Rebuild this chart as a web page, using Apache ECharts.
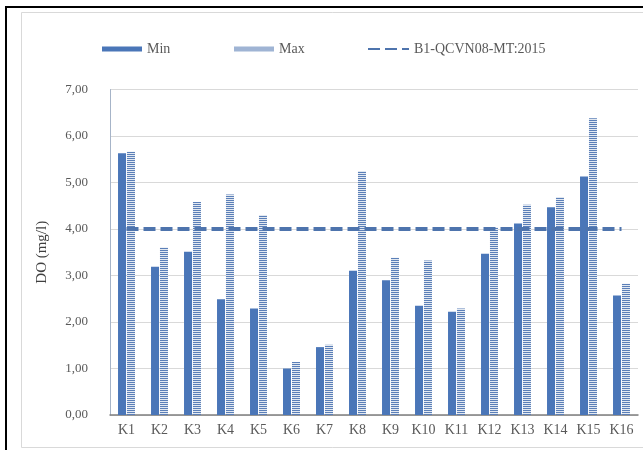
<!DOCTYPE html>
<html>
<head>
<meta charset="utf-8">
<script src="https://cdn.jsdelivr.net/npm/echarts@6/dist/echarts.min.js"></script>
<style>
  html, body { margin: 0; padding: 0; background: #fff; }
  #chart { width: 643px; height: 450px; }
</style>
</head>
<body>
<div id="chart"></div>
<script>
    // du lieu doc tu hinh
    var stations = ['K1', 'K2', 'K3', 'K4', 'K5', 'K6', 'K7', 'K8', 'K9', 'K10', 'K11', 'K12', 'K13', 'K14', 'K15', 'K16'];
    var minValues = [5.63, 3.19, 3.51, 2.49, 2.29, 1.00, 1.46, 3.10, 2.90, 2.35, 2.22, 3.47, 4.12, 4.47, 5.13, 2.57];
    var maxValues = [5.66, 3.60, 4.58, 4.74, 4.30, 1.14, 1.51, 5.25, 3.38, 3.32, 2.29, 4.03, 4.52, 4.69, 6.38, 2.82];
    var limitValues = [4, 4, 4, 4, 4, 4, 4, 4, 4, 4, 4, 4, 4, 4, 4, 4];
    var yTicks = [0, 1, 2, 3, 4, 5, 6, 7];

    var font = '"Liberation Serif", "Times New Roman", serif';

    // soc ngang cho cot Max
    function stripePattern() {
        var c = document.createElement('canvas');
        c.width = 4; c.height = 2;
        var ctx = c.getContext('2d');
        ctx.fillStyle = '#e3e9f1';
        ctx.fillRect(0, 0, 4, 2);
        ctx.fillStyle = '#5b7fb8';
        ctx.fillRect(0, 0, 4, 1);
        return c;
    }
    var stripes = { image: stripePattern(), repeat: 'repeat' };

    var chart = echarts.init(document.getElementById('chart'));

    var legendText = { fontFamily: font, fontSize: 14, color: '#595959' };

    var option = {
        animation: false,
        backgroundColor: '#fff',
        textStyle: { fontFamily: font },
        graphic: [
            { type: 'rect', shape: { x: 21.5, y: 12.5, width: 700, height: 435 }, style: { fill: 'none', stroke: '#d9d9d9', lineWidth: 1 } },
            { type: 'rect', shape: { x: 5, y: 6, width: 700, height: 2 }, style: { fill: '#000' } },
            { type: 'rect', shape: { x: 5, y: 6, width: 2, height: 444 }, style: { fill: '#000' } }
        ],
        legend: [
            { data: [{ name: 'Min', icon: 'rect' }], left: 97, top: 37, itemWidth: 40, itemHeight: 5, itemGap: 4, textStyle: legendText },
            { data: [{ name: 'Max', icon: 'rect' }], left: 229, top: 37, itemWidth: 40, itemHeight: 5, textStyle: legendText },
            { data: ['B1-QCVN08-MT:2015'], left: 362, top: 37, itemWidth: 41, itemHeight: 5,
              itemStyle: { opacity: 0 }, textStyle: legendText }
        ],
        grid: { left: 110, right: 5, top: 89.5, bottom: 35 },
        xAxis: {
            type: 'category',
            data: stations,
            axisTick: { show: false },
            axisLine: { lineStyle: { color: '#7f7f7f', width: 1.5 } },
            axisLabel: { fontFamily: font, fontSize: 14, color: '#595959', margin: 8 }
        },
        yAxis: {
            type: 'value',
            min: yTicks[0],
            max: yTicks[yTicks.length - 1],
            interval: 1,
            name: 'DO (mg/l)',
            nameLocation: 'middle',
            nameGap: 60,
            nameTextStyle: { fontFamily: font, fontSize: 15, color: '#404040' },
            axisLine: { show: true, lineStyle: { color: '#a6b4c8' } },
            axisTick: { show: false },
            splitLine: { lineStyle: { color: '#d9d9d9' } },
            axisLabel: {
                fontFamily: font, fontSize: 13, color: '#595959', margin: 22,
                formatter: function (v) { return v.toFixed(2).replace('.', ','); }
            }
        },
        series: [
            {
                name: 'Min', type: 'bar', data: minValues,
                barWidth: 8, barGap: '12%',
                itemStyle: { color: '#4a76b8' }
            },
            {
                name: 'Max', type: 'bar', data: maxValues,
                barWidth: 8,
                itemStyle: { color: stripes }
            },
            {
                name: 'B1-QCVN08-MT:2015', type: 'line', data: limitValues,
                symbol: 'none', z: 5,
                lineStyle: { color: '#4e74ad', width: 4, type: [12, 5] },
                itemStyle: { color: '#4e74ad' }
            }
        ]
    };

    chart.setOption(option);
</script>
</body>
</html>
